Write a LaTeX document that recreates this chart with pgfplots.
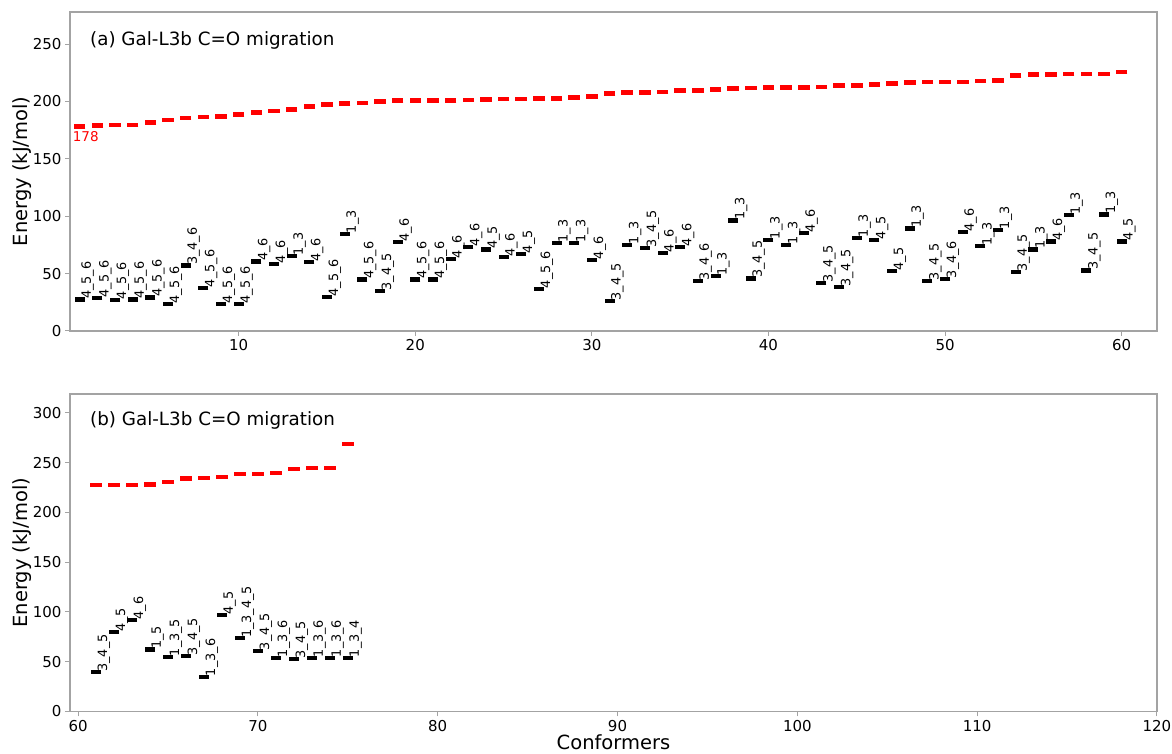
\documentclass[border=0pt]{standalone}
\usepackage{fontspec}
\setmainfont{DejaVu Sans}
\usepackage{pgfplots}
\pgfplotsset{compat=1.18}
\definecolor{framegray}{gray}{0.64}
\begin{document}
\begin{tikzpicture}
\useasboundingbox (0,0) rectangle (1172pt,754pt);
\pgfplotsset{
  myaxis/.style={
    scale only axis, width=1087pt, clip=false,
    axis line style={framegray, line width=1.2pt},
    tick style={framegray, line width=1pt},
    major tick length=5pt,
    tick align=outside,
    xtick pos=bottom, ytick pos=left,
    /pgf/number format/assume math mode=true,
    ticklabel style={font=\fontsize{15}{18}\selectfont, black},
    every axis y label/.style={at={(rel axis cs:-0.0442,0.5)}, rotate=90, anchor=center, inner sep=0pt, font=\fontsize{19.5}{22}\selectfont},
    every axis x label/.style={at={(rel axis cs:0.5,-0.097)}, anchor=center, inner sep=0pt, font=\fontsize{19.5}{22}\selectfont},
  },
  redd/.style={only marks, mark=-, mark size=5.75pt, color=red, mark options={line width=4.5pt}},
  blk/.style={only marks, mark=-, mark size=5pt, color=black, mark options={line width=4.3pt},
    nodes near coords, point meta=explicit symbolic,
    every node near coord/.style={xshift=-0.5pt, yshift=-1.5pt, rotate=90, anchor=north west, inner sep=0pt, font=\fontsize{12.8}{14}\selectfont, black}},
}
% ---------------- top panel ----------------
\begin{axis}[myaxis, at={(70pt,423pt)}, anchor=south west, height=319pt,
  xmin=0.45, xmax=62, ymin=0, ymax=278,
  xtick={10,20,30,40,50,60}, ytick={0,50,100,150,200,250},
  ylabel={Energy (kJ/mol)}]
\addplot[redd] table[x=n,y=e] {
n e
1 178
2 179.2
3 179.5
4 179.7
5 181.5
6 183.8
7 185.6
8 186.4
9 187
10 188.5
11 190.2
12 191.7
13 193.1
14 195.7
15 197.5
16 198.4
17 198.9
18 200.1
19 200.7
20 201
21 201
22 201
23 201.2
24 201.8
25 202.1
26 202.1
27 202.4
28 202.7
29 203.6
30 204.4
31 207
32 207.9
33 207.9
34 208.2
35 209.4
36 209.7
37 210.3
38 211.2
39 211.7
40 212
41 212
42 212.3
43 212.6
44 213.8
45 214
46 214.6
47 215.5
48 216.4
49 216.9
50 216.9
51 216.9
52 217.8
53 218.1
54 222.5
55 223.4
56 223.4
57 223.9
58 223.9
59 223.9
60 225.8
};
\addplot[blk] table[x=n,y=e,meta=lab] {
n e lab
1 27.5 4\_5\_6
2 28.6 4\_5\_6
3 27.2 4\_5\_6
4 27.5 4\_5\_6
5 29.2 4\_5\_6
6 23.7 4\_5\_6
7 57.2 3\_4\_6
8 37.7 4\_5\_6
9 23.7 4\_5\_6
10 23.7 4\_5\_6
11 60.6 4\_6
12 58.6 4\_6
13 65.3 1\_3
14 60 4\_6
15 29.5 4\_5\_6
16 84.8 1\_3
17 44.9 4\_5\_6
18 34.7 3\_4\_5
19 77.5 4\_6
20 44.9 4\_5\_6
21 44.9 4\_5\_6
22 63 4\_6
23 73.1 4\_6
24 71.1 4\_5
25 64.4 4\_6
26 67.3 4\_5
27 36.8 4\_5\_6
28 76.6 1\_3
29 76.6 1\_3
30 62.1 4\_6
31 26 3\_4\_5
32 75.2 1\_3
33 72.3 3\_4\_5
34 68.2 4\_6
35 73.1 4\_6
36 43.5 3\_4\_6
37 47.8 1\_3
38 96.4 1\_3
39 45.8 3\_4\_5
40 79.6 1\_3
41 75.2 1\_3
42 85.3 4\_6
43 41.7 3\_4\_5
44 38.2 3\_4\_5
45 81.3 1\_3
46 79.5 4\_5
47 52.2 4\_5
48 89.2 1\_3
49 43.5 3\_4\_5
50 45.5 3\_4\_6
51 86.2 4\_6
52 74 1\_3
53 88.3 1\_3
54 51.3 3\_4\_5
55 70.9 1\_3
56 78.1 4\_6
57 100.8 1\_3
58 52.8 3\_4\_5
59 101.4 1\_3
60 78.1 4\_5
};
\node[red, anchor=north west, inner sep=0pt, font=\fontsize{13.5}{15}\selectfont] at (axis cs:0.6,174) {178};
\node[anchor=base west, inner sep=0pt, font=\fontsize{18.3}{22}\selectfont] at (rel axis cs:0.0184,0.894) {(a) Gal-L3b C=O migration};
\end{axis}
% ---------------- bottom panel ----------------
\begin{axis}[myaxis, at={(70pt,42.5pt)}, anchor=south west, height=317.5pt,
  xmin=59.55, xmax=120, ymin=0, ymax=319,
  xtick={60,70,80,90,100,110,120}, ytick={0,50,100,150,200,250,300},
  ylabel={Energy (kJ/mol)}, xlabel={Conformers}]
\addplot[redd] table[x=n,y=e] {
n e
61 227.4
62 227.4
63 227.4
64 228.1
65 230.7
66 234.1
67 234.4
68 235.4
69 238.4
70 238.4
71 239.8
72 243.5
73 244.5
74 244.8
75 268.6
};
\addplot[blk] table[x=n,y=e,meta=lab] {
n e lab
61 39.4 3\_4\_5
62 79.8 4\_5
63 91.9 4\_6
64 62.4 1\_5
65 55 1\_3\_5
66 55.7 3\_4\_5
67 35 1\_3\_6
68 96.9 4\_5
69 73.5 1\_3\_4\_5
70 61 3\_4\_5
71 54 1\_3\_6
72 52.7 3\_4\_5
73 54 1\_3\_6
74 54 1\_3\_6
75 54 1\_3\_4
};
\node[anchor=base west, inner sep=0pt, font=\fontsize{18.3}{22}\selectfont] at (rel axis cs:0.0184,0.900) {(b) Gal-L3b C=O migration};
\end{axis}
\end{tikzpicture}
\end{document}
